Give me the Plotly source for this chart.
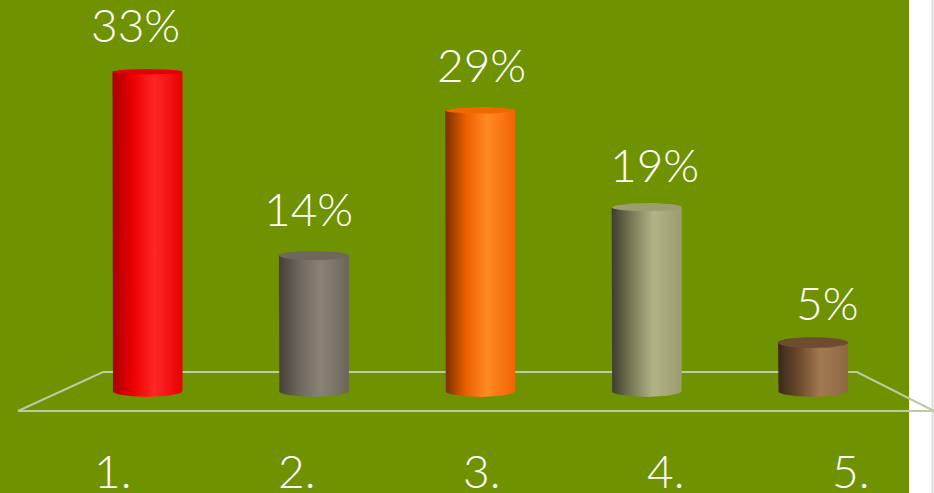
import numpy as np
import plotly.graph_objects as go

categories = ["1.", "2.", "3.", "4.", "5."]
values = [33, 14, 29, 19, 5]
value_labels = ["33%", "14%", "29%", "19%", "5%"]

# cylinder shading, left edge -> shadow -> highlight -> right edge
bar_shades = [
    ["#a80000", "#ee0000", "#ff2626", "#e80000"],
    ["#443f36", "#6f685d", "#8a8375", "#6b645a"],
    ["#7a3000", "#ec6000", "#ff8a24", "#f26400"],
    ["#3c3e2e", "#7b7d58", "#b2b488", "#9a9c70"],
    ["#3a2818", "#6c4a2e", "#a27a52", "#8e6842"],
]
top_colors = ["#e40000", "#6e685c", "#f26800", "#9c9e72", "#6e4c30"]

W, H = 934, 493
GREEN = "#6f9200"
FLOOR = "#bccaa6"

# pixel layout of the picture
x_first, x_step = 147.5, 166.4      # centre of first bar, spacing between bars
y_base, px_per_pct = 391, 9.67      # row of value 0, pixels per percent
half_w = 35 / x_step


def px_x(p):
    return (p - x_first) / x_step


def px_y(p):
    return (y_base - p) / px_per_pct


def ell_b(row):
    # ellipses look rounder lower down (eye above the chart)
    return (2.0 + 0.01 * row) / px_per_pct


fig = go.Figure()

t = np.linspace(0, np.pi, 40)
t2 = np.linspace(0, 2 * np.pi, 80)
for i, v in enumerate(values):
    cx = i
    bt = ell_b(y_base - v * px_per_pct)
    bb = ell_b(y_base)
    xs = np.concatenate([[cx - half_w], cx - half_w * np.cos(t),
                         [cx + half_w], cx + half_w * np.cos(t)])
    ys = np.concatenate([[v], -bb * np.sin(t), [v], v + bt * np.sin(t)])
    s = bar_shades[i]
    fig.add_trace(go.Scatter(
        x=xs, y=ys, mode="lines", line=dict(width=0), fill="toself",
        fillgradient=dict(type="horizontal",
                          colorscale=[[0, s[0]], [0.3, s[1]], [0.6, s[2]], [1, s[3]]]),
        hoverinfo="skip", showlegend=False))
    fig.add_trace(go.Scatter(
        x=cx + half_w * np.cos(t2), y=v + bt * np.sin(t2), mode="lines",
        line=dict(width=0), fill="toself", fillcolor=top_colors[i],
        hoverinfo="skip", showlegend=False))

font = dict(family="Lato", size=46, color="white", weight=300)

# value labels drift right a little from bar to bar, category labels more
value_xshift = [-12.5 + 6.6 * i for i in range(len(values))]
value_yshift = [47, 47, 46, 43, 40]
cat_xshift = [(112 + 184.5 * i) - (x_first + x_step * i) for i in range(len(categories))]

annotations = []
for i, v in enumerate(values):
    annotations.append(dict(x=i, y=v, text=value_labels[i], showarrow=False,
                            yanchor="middle", xshift=value_xshift[i],
                            yshift=value_yshift[i], font=font))

for i, c in enumerate(categories):
    annotations.append(dict(x=i, xref="x", y=(H - 470) / H, yref="paper",
                            text=c, showarrow=False, yanchor="middle",
                            xshift=cat_xshift[i], font=font))

floor_pts = [(18, 411), (103, 372), (857, 372), (934, 411)]
path = "M " + " L ".join(f"{px_x(a):.4f},{px_y(b):.4f}" for a, b in floor_pts) + " Z"

shapes = [
    dict(type="rect", xref="paper", yref="paper", x0=909 / W, x1=1, y0=0, y1=1,
         fillcolor="white", line=dict(width=0), layer="below"),
    dict(type="line", xref="paper", yref="paper", x0=932.5 / W, x1=932.5 / W, y0=0, y1=1,
         line=dict(color="#dcdcdc", width=2), layer="below"),
    dict(type="path", path=path, xref="x", yref="y",
         line=dict(color=FLOOR, width=2), layer="below"),
]

fig.update_layout(
    width=W, height=H,
    margin=dict(l=0, r=0, t=0, b=0),
    paper_bgcolor=GREEN, plot_bgcolor=GREEN,
    xaxis=dict(range=[px_x(0), px_x(W)], visible=False, fixedrange=True),
    yaxis=dict(range=[px_y(H), px_y(0)], visible=False, fixedrange=True),
    annotations=annotations,
    shapes=shapes,
    showlegend=False,
)

fig.write_html("out.html", config={"displayModeBar": False},
               post_script="document.body.style.margin='0';document.body.style.overflow='hidden';")
